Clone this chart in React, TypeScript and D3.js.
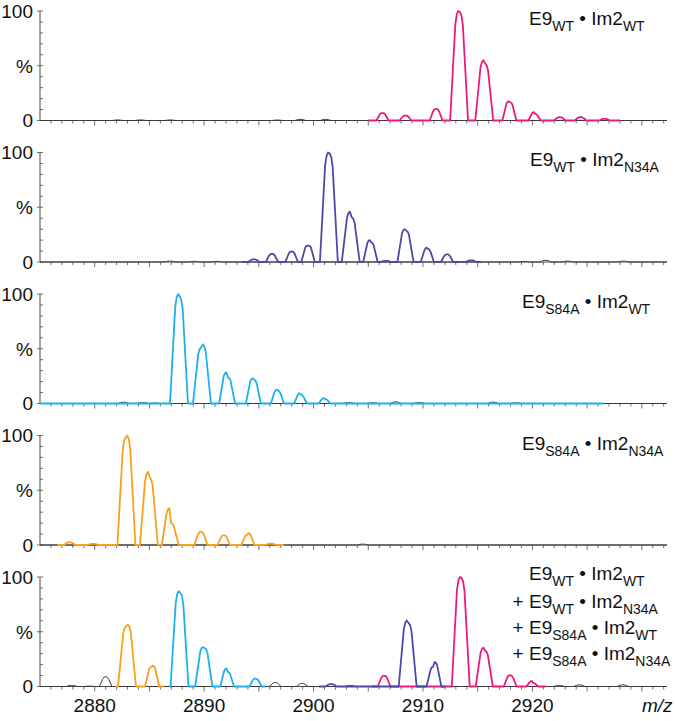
import React from "react";
import * as d3 from "d3";

type Peak = [number, number, number]; // [m/z, left-top %, right-top %]

// ---------- data ----------
const mzDomain: [number, number] = [2875, 2932.3];
const xTickLabels = [2880, 2890, 2900, 2910, 2920];
const yTickLabels = [
  { v: 0, t: "0" },
  { v: 50, t: "%" },
  { v: 100, t: "100" },
];

const PINK = "#ec1a7d";
const BLUE = "#4b4aa6";
const CYAN = "#1db0ec";
const ORANGE = "#f8a01c";
const BLACK = "#3a3a3a";

// panel 1: E9WT • Im2WT
const wtWtPeaks: Peak[] = [
  [2906.3, 6.7, 6.7], [2908.4, 4.5, 4.5], [2911.2, 10.6, 10.6], [2913.3, 100, 99],
  [2915.6, 55, 52], [2917.9, 17.6, 16.7], [2920.2, 7.6, 6], [2922.5, 3, 3],
  [2924.4, 3, 3], [2926.6, 1.5, 1.5],
];
const wtWtNoise: Peak[] = [
  [2882.1, 0.5, 0.5], [2884.2, 0.5, 0.5], [2886.9, 0.5, 0.5], [2896.7, 0.4, 0.4],
  [2898.8, 1, 1], [2901.1, 1, 1],
];

// panel 2: E9WT • Im2N34A
const wtN34aPeaks: Peak[] = [
  [2894.55, 2.4, 2.4], [2896.2, 7.5, 7.5], [2898.0, 9.6, 9.6], [2899.5, 15, 15],
  [2901.4, 100, 99], [2903.4, 46, 41], [2905.2, 20, 18], [2906.6, 1, 1],
  [2908.4, 30, 28.6], [2910.4, 13, 12], [2912.2, 7, 7], [2914.4, 1.5, 1.5],
];
const wtN34aNoise: Peak[] = [
  [2886.9, 0.8, 0.8], [2889.1, 0.6, 0.6], [2891.2, 0.5, 0.5], [2919.2, 0.5, 0.5],
  [2921.2, 1.5, 1.5], [2923.2, 0.8, 0.8], [2928.3, 0.8, 0.8],
];

// panel 3: E9S84A • Im2WT
const s84aWtPeaks: Peak[] = [
  [2887.7, 100, 97.6], [2889.8, 51, 54], [2892.1, 28.6, 24], [2894.5, 23, 21.7],
  [2896.7, 12.7, 11.7], [2898.8, 9.3, 8], [2901.0, 4.8, 4],
];
const s84aWtNoise: Peak[] = [
  [2882.65, 1.2, 1.2], [2884.4, 0.9, 0.9], [2885.5, 0.4, 0.4], [2903.2, 0.8, 0.8],
  [2905.4, 0.6, 0.6], [2907.5, 1.5, 1.5], [2909.65, 1, 1], [2916.4, 1.2, 1.2],
  [2918.5, 0.6, 0.6],
];

// panel 4: E9S84A • Im2N34A
const s84aN34aPeaks: Peak[] = [
  [2877.7, 2.4, 2.4], [2879.85, 1, 1], [2882.9, 98, 100], [2884.95, 66.8, 61.6],
  [2886.9, 33.5, 20], [2889.7, 12, 12], [2891.8, 8.8, 8.8], [2894.0, 9.4, 10.9],
  [2896.1, 1.2, 1.2],
];
const s84aN34aNoise: Peak[] = [[2904.5, 0.8, 0.8]];

// panel 5: mixture
const mixOrange: Peak[] = [[2882.95, 55, 56.4], [2885.25, 18, 19]];
const mixCyan: Peak[] = [[2887.75, 87, 85.5], [2889.97, 36, 35], [2892.1, 16.4, 13.3], [2894.7, 7.3, 7]];
const mixBlue: Peak[] = [[2901.6, 2.1, 2.1], [2908.6, 60.3, 58], [2911.0, 18.2, 22.4]];
const mixPink: Peak[] = [[2906.45, 9.7, 9.7], [2913.45, 100, 99], [2915.6, 35.5, 32.7], [2917.97, 10.3, 10], [2920.0, 5, 3.3]];
const mixNoise: Peak[] = [
  [2877.9, 1, 1], [2879.5, 0.3, 0.3], [2881.0, 8.8, 8.8], [2896.5, 3.6, 3.6],
  [2898.97, 2.7, 2.7], [2903.4, 1, 1], [2922.45, 1, 1], [2924.3, 1.5, 1.5],
  [2928.25, 1.5, 1.5],
];

type Series = { peaks: Peak[]; range: [number, number]; color: string; width: number };
type LabelLine = { prefix?: string; a: string; b: string };

const panels: { series: Series[]; label: LabelLine[]; labelX: number }[] = [
  {
    series: [
      { peaks: wtWtNoise, range: mzDomain, color: BLACK, width: 1 },
      { peaks: wtWtPeaks, range: [2905, 2928], color: PINK, width: 1.8 },
    ],
    label: [{ a: "WT", b: "WT" }],
    labelX: 529,
  },
  {
    series: [
      { peaks: wtN34aNoise, range: mzDomain, color: BLACK, width: 1 },
      { peaks: wtN34aPeaks, range: [2893.5, 2915.3], color: BLUE, width: 1.8 },
    ],
    label: [{ a: "WT", b: "N34A" }],
    labelX: 530,
  },
  {
    series: [
      { peaks: s84aWtNoise, range: mzDomain, color: BLACK, width: 1 },
      { peaks: s84aWtPeaks, range: [2875, 2926.5], color: CYAN, width: 1.8 },
    ],
    label: [{ a: "S84A", b: "WT" }],
    labelX: 522,
  },
  {
    series: [
      { peaks: s84aN34aNoise, range: mzDomain, color: BLACK, width: 1 },
      { peaks: s84aN34aPeaks, range: [2876.6, 2897.3], color: ORANGE, width: 1.8 },
    ],
    label: [{ a: "S84A", b: "N34A" }],
    labelX: 522,
  },
  {
    series: [
      { peaks: mixNoise, range: mzDomain, color: BLACK, width: 1 },
      { peaks: mixOrange, range: [2881.9, 2886.3], color: ORANGE, width: 1.8 },
      { peaks: mixCyan, range: [2886.8, 2895.6], color: CYAN, width: 1.8 },
      { peaks: mixPink, range: [2905.3, 2921.2], color: PINK, width: 1.8 },
      { peaks: mixBlue, range: [2900.5, 2912], color: BLUE, width: 1.8 },
    ],
    label: [
      { a: "WT", b: "WT" },
      { prefix: "+ ", a: "WT", b: "N34A" },
      { prefix: "+ ", a: "S84A", b: "WT" },
      { prefix: "+ ", a: "S84A", b: "N34A" },
    ],
    labelX: 529,
  },
];

// ---------- layout ----------
const W = 675;
const H = 721;
const panelTop0 = 11;
const panelStep = 141.5;
const panelH = 109.5;
const FONT = "'Liberation Sans', Arial, Helvetica, sans-serif";
const AXIS = "#4a4a4a";

const x = d3.scaleLinear().domain(mzDomain).range([40, 667]);

function tracePoints(peaks: Peak[], range: [number, number]): [number, number][] {
  const pts: [number, number][] = [[range[0], 0]];
  [...peaks].sort((p, q) => p[0] - q[0]).forEach(([c, hL, hR]) => {
    const h = Math.max(hL, hR);
    const w = 0.5 + 0.32 * Math.min(1, h / 40);
    const small = h < 15;
    pts.push(
      [c - w, 0],
      [c - (small ? 0.5 : 0.42) * w, (small ? 0.75 : 0.88) * hL],
      [c - 0.26 * w, 0.97 * hL],
      [c - 0.1 * w, hL],
      [c + 0.1 * w, hR],
      [c + 0.26 * w, 0.97 * hR],
      [c + (small ? 0.5 : 0.42) * w, (small ? 0.75 : 0.88) * hR],
      [c + w, 0]
    );
  });
  pts.push([range[1], 0]);
  return pts;
}

function Label({ line, x0, y }: { line: LabelLine; x0: number; y: number }) {
  const sub = 14;
  const dy = 6;
  return (
    <text x={line.prefix ? x0 - 16.4 : x0} y={y} fontFamily={FONT} fontSize={19} fill="#111">
      {line.prefix ? <tspan>{line.prefix}</tspan> : null}
      <tspan>E9</tspan>
      <tspan dy={dy} fontSize={sub}>{line.a}</tspan>
      <tspan dy={-dy}>{" \u2022 Im2"}</tspan>
      <tspan dy={dy} fontSize={sub}>{line.b}</tspan>
    </text>
  );
}

function Panel({ idx }: { idx: number }) {
  const p = panels[idx];
  const top = panelTop0 + idx * panelStep;
  const y = d3.scaleLinear().domain([0, 100]).range([top + panelH, top]);
  const line = d3
    .line<[number, number]>()
    .x((d) => x(d[0]))
    .y((d) => y(d[1]))
    .curve(d3.curveLinear);
  const y0 = y(0);
  const minorTicks = d3.range(2876, 2933, 1);
  const yMinor = d3.range(0, 101, 10);
  const isLast = idx === panels.length - 1;
  const labelBase = [25, 166, 308, 450];
  const mixBase = [580, 607.5, 634, 660];

  return (
    <g>
      {/* y axis */}
      <line x1={x(mzDomain[0])} x2={x(mzDomain[0])} y1={y(100)} y2={y0} stroke={AXIS} strokeWidth={1} />
      {yMinor.map((v) => (
        <line
          key={"ym" + v}
          x1={x(mzDomain[0]) - (v % 50 === 0 ? 3 : 0)}
          x2={x(mzDomain[0]) + 3}
          y1={y(v)}
          y2={y(v)}
          stroke={AXIS}
          strokeWidth={0.8}
        />
      ))}
      {yTickLabels.map((t) => (
        <text
          key={"yl" + t.t}
          x={33}
          y={y(t.v)}
          dy="0.36em"
          textAnchor="end"
          fontFamily={FONT}
          fontSize={19}
          fill="#111"
        >
          {t.t}
        </text>
      ))}
      {/* x axis */}
      <line x1={x(mzDomain[0])} x2={x(mzDomain[1])} y1={y0} y2={y0} stroke={AXIS} strokeWidth={1} />
      {minorTicks.map((m) => (
        <line
          key={"xm" + m}
          x1={x(m)}
          x2={x(m)}
          y1={y0}
          y2={y0 + (m % 5 === 0 ? 5 : 3)}
          stroke={AXIS}
          strokeWidth={0.8}
        />
      ))}
      {isLast &&
        xTickLabels.map((m) => (
          <text key={"xl" + m} x={x(m)} y={712} textAnchor="middle" fontFamily={FONT} fontSize={19} fill="#111">
            {m}
          </text>
        ))}
      {isLast && (
        <text x={642} y={712} fontFamily={FONT} fontSize={19} fontStyle="italic" fill="#111">
          m/z
        </text>
      )}
      {/* traces */}
      {p.series.map((s, i) => (
        <path
          key={"s" + i}
          d={line(tracePoints(s.peaks, s.range)) || ""}
          fill="none"
          stroke={s.color}
          strokeWidth={s.width}
          strokeLinejoin="round"
        />
      ))}
      {/* labels */}
      {p.label.map((l, i) => (
        <Label key={"lb" + i} line={l} x0={p.labelX} y={isLast ? mixBase[i] : labelBase[idx]} />
      ))}
    </g>
  );
}

export default function App() {
  return (
    <svg
      width={W}
      height={H}
      viewBox={`0 0 ${W} ${H}`}
      style={{ position: "absolute", left: 0, top: 0, background: "#fff", display: "block" }}
    >
      <rect x={0} y={0} width={W} height={H} fill="#fff" />
      {panels.map((_, i) => (
        <Panel key={i} idx={i} />
      ))}
    </svg>
  );
}
